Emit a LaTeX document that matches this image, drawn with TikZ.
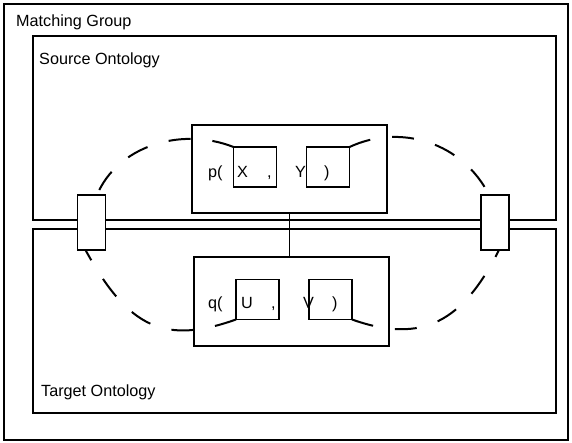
\documentclass[tikz,border=0pt]{standalone}
\usepackage{fontspec}
\setmainfont{Liberation Sans}
\begin{document}
\begin{tikzpicture}[x=1pt, y=-1pt,
        box/.style={draw, line width=1.6pt, inner sep=0pt, outer sep=0pt},
        linkbox/.style={box, fill=white, minimum width=28pt, minimum height=55pt},
        varbox/.style={box, minimum width=43pt, minimum height=40pt},
        lbl/.style={inner sep=0pt, anchor=base west, font=\fontsize{16.2}{19}\selectfont},
        bind/.style={line width=2pt, dash pattern=on 22pt off 22pt}]
        \useasboundingbox (0,0) rectangle (572,443);

        \node[box, minimum width=564pt, minimum height=436pt] (group) at (286,222) {};
        \node[box, minimum width=523pt, minimum height=184pt] (source) at (294.5,128) {};
        \node[box, minimum width=523pt, minimum height=184pt] (target) at (294.5,321) {};
        \node[box, minimum width=195pt, minimum height=88pt] (pred_p) at (289.5,169) {};
        \node[box, minimum width=195pt, minimum height=89pt] (pred_q) at (291.5,301.5) {};
        \node[varbox] (var_x) at (255,167) {};
        \node[varbox] (var_y) at (328,167) {};
        \node[varbox] (var_u) at (257.5,299.5) {};
        \node[varbox] (var_v) at (330.5,299.5) {};

        \node[lbl] (group_lbl) at (16,27) {Matching Group};
        \node[lbl] (source_lbl) at (39,65) {Source Ontology};
        \node[lbl] (target_lbl) at (41,396) {Target Ontology};

        \node[lbl] (p_open) at (208,178) {p(};
        \node[lbl] (p_x) at (237,178) {X};
        \node[lbl] (p_comma) at (267,178) {,};
        \node[lbl] (p_y) at (295,178) {Y};
        \node[lbl] (p_close) at (324,178) {)};
        \node[lbl] (q_open) at (208,308) {q(};
        \node[lbl] (q_u) at (241,308) {U};
        \node[lbl] (q_comma) at (271,308) {,};
        \node[lbl] (q_v) at (303,308) {V};
        \node[lbl] (q_close) at (332,308) {)};

        \draw[line width=1.6pt] (pred_p.south) -- (pred_p.south |- pred_q.north);

        \node[linkbox] (link_l) at (91.5,222.5) {};
        \node[linkbox] (link_r) at (495,222.5) {};

        \draw[bind] (var_x.north west) .. controls (180,126) and (117,147) .. ([xshift=5.5pt]link_l.north);
        \draw[bind] (var_y.north east) .. controls (401,123) and (463,143) .. ([xshift=-6pt]link_r.north);
        \draw[bind] (var_u.south west) .. controls (165.5,344.5) and (128.7,329) .. ([xshift=-6pt]link_l.south);
        \draw[bind] (var_v.south east) .. controls (422.5,344.5) and (463,321.5) .. ([xshift=4pt]link_r.south);
    \end{tikzpicture}
\end{document}
